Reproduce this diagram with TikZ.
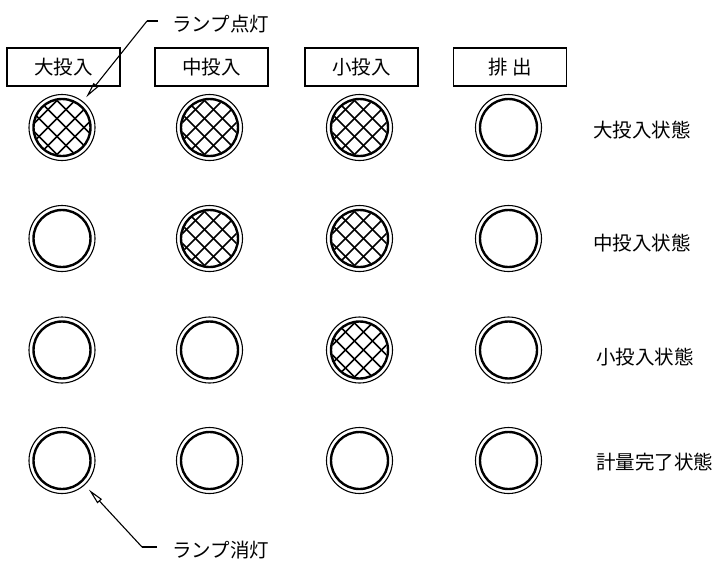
\documentclass[tikz,border=0pt]{standalone}
\usepackage{fontspec}
\newfontfamily\jp{Noto Sans CJK JP}
\usetikzlibrary{arrows.meta}
\tikzset{
  lamp/.style={circle, draw, line width=1.1pt, minimum size=66pt, inner sep=0pt},
  lampoff/.style={lamp, path picture={
      \draw[line width=2.4pt] (path picture bounding box.center) circle[radius=28.5pt];}},
  lampon/.style={lamp, path picture={
      \begin{scope}[shift={(path picture bounding box.center)}]
        \clip (0,0) circle[radius=27.5pt];
        \foreach \k in {-4,...,4} {
          \draw[line width=1.7pt] (\k*18-45+4,-45) -- ++(90,90);
          \draw[line width=1.7pt] (\k*18-45+4,45) -- ++(90,-90);
        }
      \end{scope}
      \draw[line width=2.4pt] (path picture bounding box.center) circle[radius=28.5pt];}},
  head/.style={draw, line width=1.1pt, minimum width=113pt, minimum height=38pt, inner sep=0pt, font=\jp\fontsize{19.5}{20}\selectfont},
  state/.style={anchor=west, inner sep=0pt, font=\jp\fontsize{19.5}{20}\selectfont},
  callout/.style={anchor=west, inner sep=0pt, font=\jp\fontsize{19.5}{20}\selectfont},
  leader/.style={line width=1.1pt},
  pointer/.style={line width=1.1pt, -{Triangle[open, length=16pt, width=6pt]}}
}
\begin{document}
\begin{tikzpicture}[x=1pt,y=-1pt]
\useasboundingbox (0,0) rectangle (716,563);
% header boxes
\node[head] (h1) at (63.5,67) {大投入};
\node[head] (h2) at (211.5,67) {中投入};
\node[head] (h3) at (361.5,67) {小投入};
\node[head] (h4) at (510,67) {排 出};
% lamps
\node[lampon]  (L11) at (62,127.5) {};
\node[lampon]  (L12) at (209.5,127.5) {};
\node[lampon]  (L13) at (359.5,127.5) {};
\node[lampoff] (L14) at (508.5,127.5) {};
\node[lampoff] (L21) at (62,238.5) {};
\node[lampon]  (L22) at (209.5,238.5) {};
\node[lampon]  (L23) at (359.5,238.5) {};
\node[lampoff] (L24) at (508.5,238.5) {};
\node[lampoff] (L31) at (62,350) {};
\node[lampoff] (L32) at (209.5,350) {};
\node[lampon]  (L33) at (359.5,350) {};
\node[lampoff] (L34) at (508.5,350) {};
\node[lampoff] (L41) at (62,460.5) {};
\node[lampoff] (L42) at (209.5,460.5) {};
\node[lampoff] (L43) at (359.5,460.5) {};
\node[lampoff] (L44) at (508.5,460.5) {};
% state labels
\node[state] (s1) at (593,130) {大投入状態};
\node[state] (s2) at (593,243) {中投入状態};
\node[state] (s3) at (596,357) {小投入状態};
\node[state] (s4) at (596,462) {計量完了状態};
% callouts
\node[callout] (c1) at (172,24) {ランプ点灯};
\node[callout] (c2) at (172,550) {ランプ消灯};
\coordinate (k1) at (147,21);
\coordinate (e1) at (158,21);
\coordinate (k2) at (142,547);
\coordinate (e2) at (157,547);
\draw[leader] (e1) -- (k1);
\draw[pointer, shorten >=5pt] (k1) -- (L11);
\draw[leader] (e2) -- (k2);
\draw[pointer, shorten >=6pt] (k2) -- (L41);
\end{tikzpicture}
\end{document}
